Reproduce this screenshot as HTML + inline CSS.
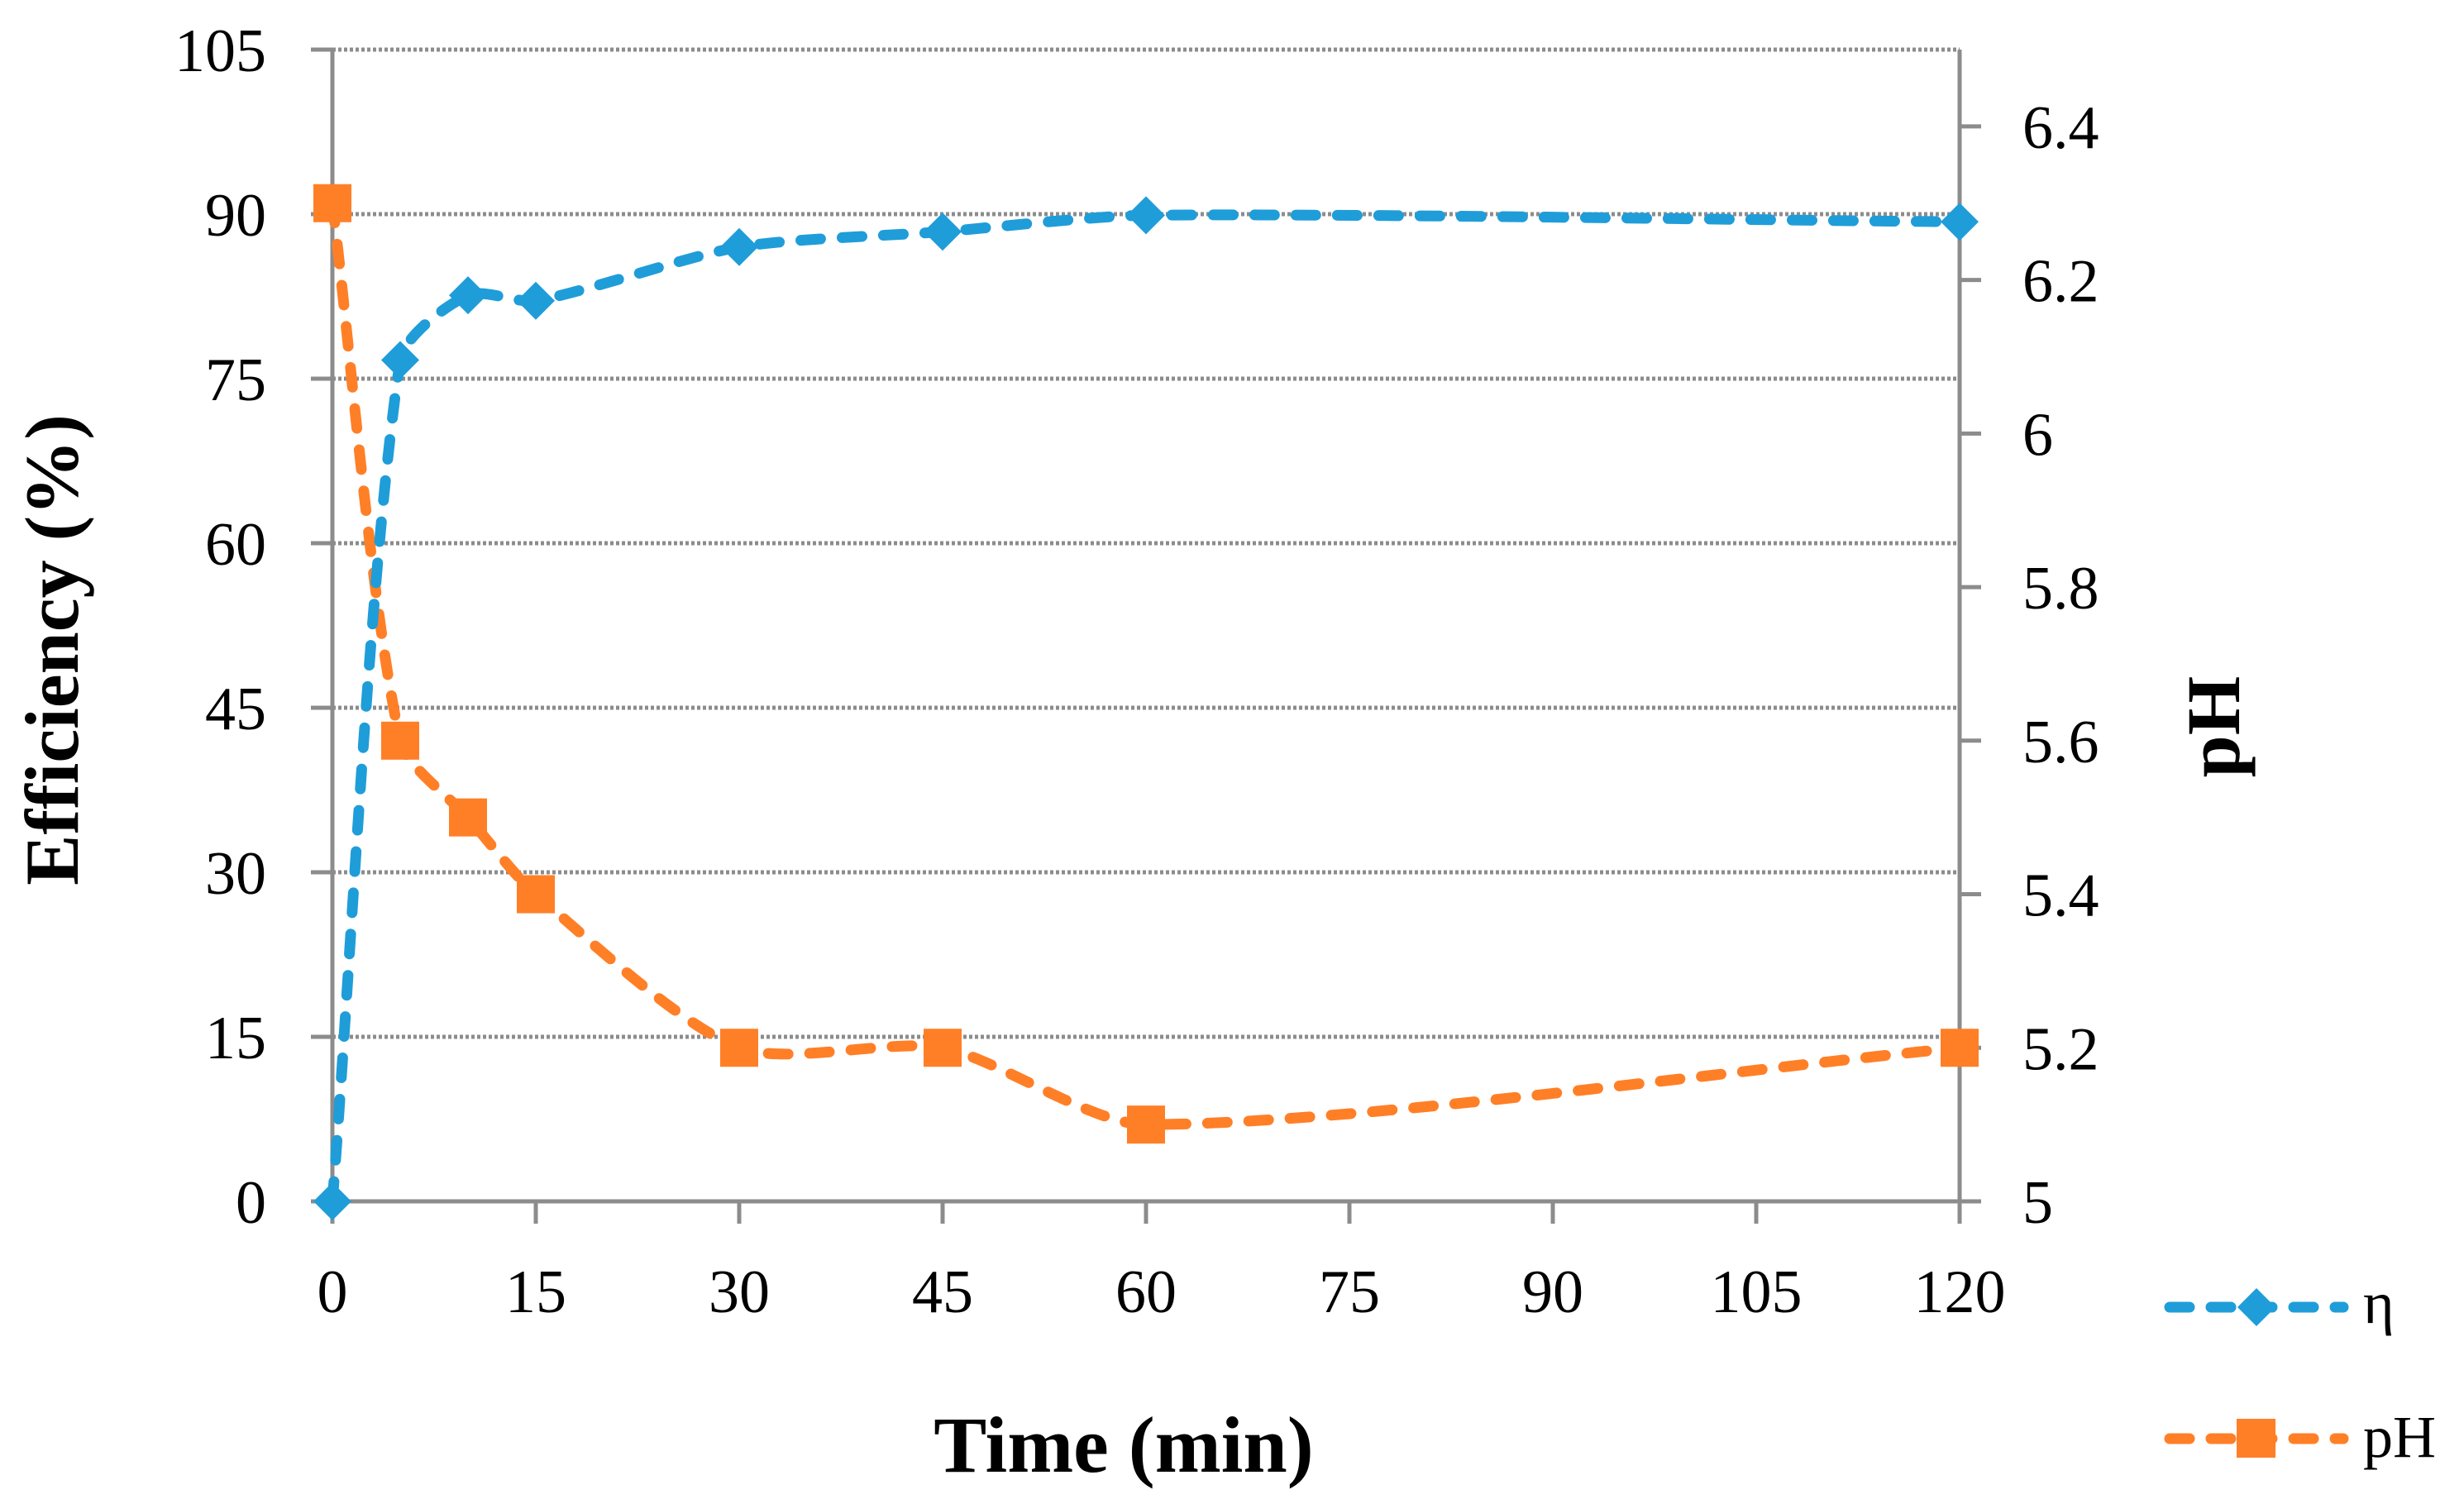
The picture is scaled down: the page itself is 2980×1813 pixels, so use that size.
<!DOCTYPE html>
<html><head><meta charset="utf-8"><style>
html,body{margin:0;padding:0;background:#fff;}
svg{display:block;}
text{font-family:"Liberation Serif",serif;fill:#000;}
</style></head><body>
<svg id="chart" width="2980" height="1813" viewBox="0 0 2980 1813" xmlns="http://www.w3.org/2000/svg">
<g id="grid"></g>
<g id="axes"></g>
<g id="series"></g>
<text x="1359" y="1780" text-anchor="middle" font-size="96" font-weight="bold">Time (min)</text>
<text transform="translate(94,786) rotate(-90)" text-anchor="middle" font-size="92" font-weight="bold">Efficiency (%)</text>
<text transform="translate(2708,879) rotate(-90)" text-anchor="middle" font-size="92" font-weight="bold">pH</text>
<g>
  <g>
    <line x1="2624" y1="1581" x2="2834" y2="1581" stroke="#1f9dd9" stroke-width="13" stroke-dasharray="24 26" stroke-linecap="round"/>
    <path d="M2729 1558 L2752 1581 L2729 1604 L2706 1581 Z" fill="#1f9dd9"/>
    <text x="2858" y="1600" font-size="72">η</text>
  </g>
  <g>
    <line x1="2624" y1="1740" x2="2834" y2="1740" stroke="#ff7f27" stroke-width="13" stroke-dasharray="24 26" stroke-linecap="round"/>
    <rect x="2705" y="1716" width="47" height="47" fill="#ff7f27"/>
    <text x="2858" y="1762" font-size="72">pH</text>
  </g>
</g>
</svg>
<script>
const times = [0, 5, 10, 15, 30, 45, 60, 120];
const efficiency = [0, 76.7, 82.6, 82.1, 87.0, 88.4, 89.9, 89.3];
const phValues = [6.3, 5.6, 5.5, 5.4, 5.2, 5.2, 5.1, 5.2];
const xTicks = [0, 15, 30, 45, 60, 75, 90, 105, 120];
const yTicks = [0, 15, 30, 45, 60, 75, 90, 105];
const y2Ticks = ["5", "5.2", "5.4", "5.6", "5.8", "6", "6.2", "6.4"];

const L = 402, R = 2370, T = 60, B = 1453;
const NS = "http://www.w3.org/2000/svg";
const xS = v => L + (v / 120) * (R - L);
const yS = v => B - (v / 105) * (B - T);
const y2S = v => B - ((v - 5) / 1.5) * (B - T);

function mk(tag, attrs, parent) {
  const e = document.createElementNS(NS, tag);
  for (const k in attrs) e.setAttribute(k, attrs[k]);
  parent.appendChild(e);
  return e;
}
const grid = document.getElementById('grid');
const axes = document.getElementById('axes');
const series = document.getElementById('series');

yTicks.forEach(v => {
  const y = yS(v);
  if (v > 0) {
    const g = mk('line', {x1: L, x2: R, y1: y, y2: y, stroke: '#8c8c8c', 'stroke-width': 5, 'stroke-dasharray': '4 3'}, grid);
    
    
  }
  const t = mk('line', {x1: L - 26, x2: L, y1: y, y2: y, stroke: '#8c8c8c', 'stroke-width': 5}, axes);
  
  
  const tx = mk('text', {x: 322, y: y + 26, 'text-anchor': 'end', 'font-size': 74}, axes);
  tx.textContent = v;
  
  
});
y2Ticks.forEach(s => {
  const y = y2S(parseFloat(s));
  const t = mk('line', {x1: R, x2: R + 26, y1: y, y2: y, stroke: '#8c8c8c', 'stroke-width': 5}, axes);
  
  
  const tx = mk('text', {x: 2446, y: y + 26, 'text-anchor': 'start', 'font-size': 74}, axes);
  tx.textContent = s;
  
  
});
xTicks.forEach(v => {
  const x = xS(v);
  const t = mk('line', {x1: x, x2: x, y1: B, y2: B + 27, stroke: '#8c8c8c', 'stroke-width': 5}, axes);
  
  
  const tx = mk('text', {x: x, y: 1587, 'text-anchor': 'middle', 'font-size': 74}, axes);
  tx.textContent = v;
  
  
});
const ax1 = mk('line', {x1: L, x2: L, y1: T, y2: B, stroke: '#8c8c8c', 'stroke-width': 5}, axes);


const ax2 = mk('line', {x1: R, x2: R, y1: T, y2: B, stroke: '#8c8c8c', 'stroke-width': 5}, axes);


const ax3 = mk('line', {x1: L - 26, x2: R + 26, y1: B, y2: B, stroke: '#8c8c8c', 'stroke-width': 5}, axes);



function smooth(pts) {
  let d = 'M' + pts[0][0] + ' ' + pts[0][1];
  for (let i = 0; i < pts.length - 1; i++) {
    const p0 = pts[i - 1] || pts[i], p1 = pts[i], p2 = pts[i + 1], p3 = pts[i + 2] || p2;
    const len = Math.hypot(p2[0] - p1[0], p2[1] - p1[1]);
    const l0 = Math.hypot(p2[0] - p0[0], p2[1] - p0[1]) || 1;
    const l1 = Math.hypot(p3[0] - p1[0], p3[1] - p1[1]) || 1;
    const k = 0.25;
    const c1 = [p1[0] + (p2[0] - p0[0]) / l0 * len * k, p1[1] + (p2[1] - p0[1]) / l0 * len * k];
    const c2 = [p2[0] - (p3[0] - p1[0]) / l1 * len * k, p2[1] - (p3[1] - p1[1]) / l1 * len * k];
    d += ' C' + c1[0] + ' ' + c1[1] + ' ' + c2[0] + ' ' + c2[1] + ' ' + p2[0] + ' ' + p2[1];
  }
  return d;
}
const etaPts = times.map((t, i) => [xS(t), yS(efficiency[i])]);
const phPts = times.map((t, i) => [xS(t), y2S(phValues[i])]);

const lp = mk('path', {d: smooth(phPts), fill: 'none', stroke: '#ff7f27', 'stroke-width': 13, 'stroke-dasharray': '24 26', 'stroke-linecap': 'round'}, series);


const le = mk('path', {d: smooth(etaPts), fill: 'none', stroke: '#1f9dd9', 'stroke-width': 13, 'stroke-dasharray': '24 26', 'stroke-linecap': 'round'}, series);



phPts.forEach(p => {
  const r = mk('rect', {x: p[0] - 23, y: p[1] - 23, width: 46, height: 46, fill: '#ff7f27'}, series);
  
  
});
etaPts.forEach(p => {
  const s = 23;
  const m = mk('path', {d: `M${p[0]} ${p[1]-s} L${p[0]+s} ${p[1]} L${p[0]} ${p[1]+s} L${p[0]-s} ${p[1]} Z`, fill: '#1f9dd9'}, series);
  
  
});
</script>
</body></html>
